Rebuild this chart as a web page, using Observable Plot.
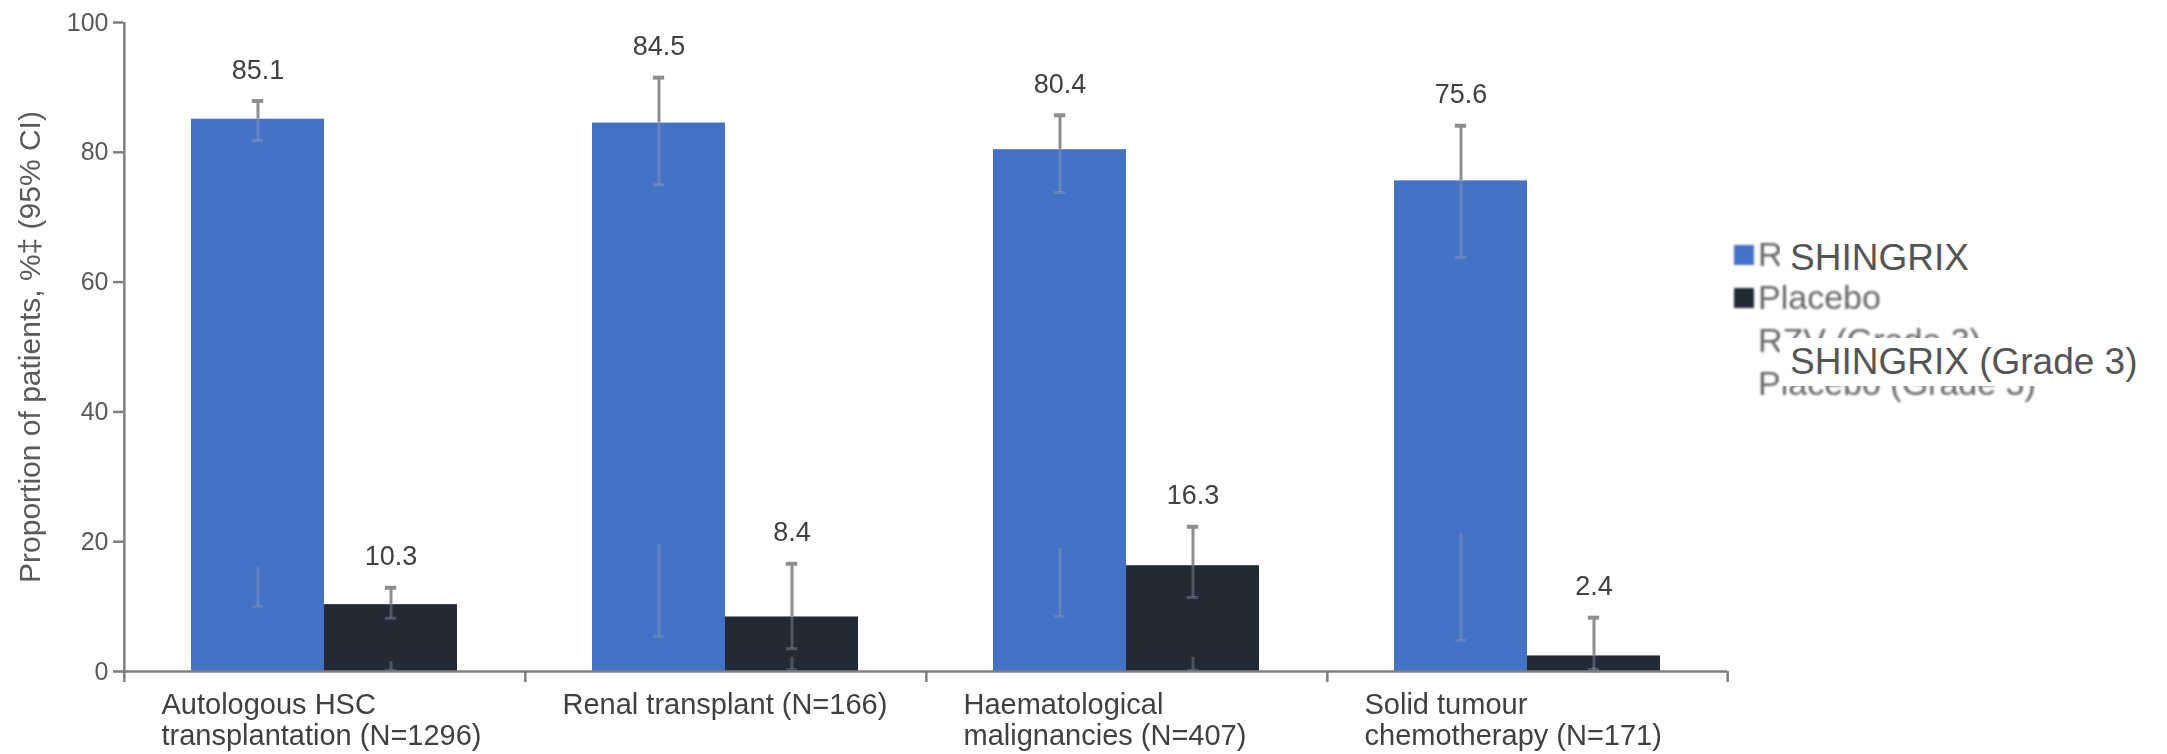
<!DOCTYPE html>
<html>
<head>
<meta charset="utf-8">
<script src="https://cdn.jsdelivr.net/npm/d3@7"></script>
<script src="https://cdn.jsdelivr.net/npm/@observablehq/plot@0.6"></script>
<style>
  html, body { margin: 0; padding: 0; background: #fff; }
  #wrap { position: relative; width: 2167px; height: 754px; font-family: "Liberation Sans", Arial, sans-serif; }
  #chart svg { filter: blur(0.6px); }
  .legend { position: absolute; left: 1734px; top: 233px; color: #666; font-size: 34px; line-height: 43px; filter: blur(0.9px); }
  .legend .row { display: flex; align-items: center; height: 43px; white-space: nowrap; }
  .legend .sw { width: 20px; height: 20px; margin-right: 4px; flex: none; }
  .legend .pad { width: 24px; flex: none; }
  .overlay { position: absolute; background: #fff; color: #555; font-size: 37px; line-height: 48px; padding: 0 6px 0 10px; white-space: nowrap; }
</style>
</head>
<body>
<div id="wrap">
  <div id="chart"></div>
</div>
<script>
// Patient groups shown along the x axis
const categories = ["Autologous HSC", "Renal transplant", "Haematological", "Solid tumour"];
const categoryLabels = [
  "Autologous HSC\ntransplantation (N=1296)",
  "Renal transplant (N=166)",
  "Haematological\nmalignancies (N=407)",
  "Solid tumour\nchemotherapy (N=171)"
];
const series = ["RZV", "Placebo"];

// Proportion of patients, % with 95% CI
const rzvValues = [85.1, 84.5, 80.4, 75.6];
const rzvLower = [81.8, 75.0, 73.8, 63.8];
const rzvUpper = [87.9, 91.5, 85.7, 84.1];
const placeboValues = [10.3, 8.4, 16.3, 2.4];
const placeboLower = [8.2, 3.5, 11.4, 0.3];
const placeboUpper = [12.9, 16.6, 22.3, 8.3];

// Grade 3 confidence intervals (only their whiskers are drawn)
const rzvGrade3Lower = [10.0, 5.4, 8.5, 4.8];
const rzvGrade3Upper = [16.0, 19.5, 19.0, 21.3];
const placeboGrade3Lower = [0.2, 0.3, 0.2, 0.0];
const placeboGrade3Upper = [1.5, 2.2, 2.2, 0.6];

const yTicks = [0, 20, 40, 60, 80, 100];
const yTitle = "Proportion of patients, %\u2021 (95% CI)";
const legendLabels = ["RZV", "Placebo", "RZV (Grade 3)", "Placebo (Grade 3)"];
const overlayLabels = ["SHINGRIX", "SHINGRIX (Grade 3)"];
const seriesColors = ["#4472c4", "#222a36"];

const rows = categories.flatMap((c, i) => [
  {category: c, series: series[0], value: rzvValues[i], lower: rzvLower[i], upper: rzvUpper[i],
   g3Lower: rzvGrade3Lower[i], g3Upper: rzvGrade3Upper[i]},
  {category: c, series: series[1], value: placeboValues[i], lower: placeboLower[i], upper: placeboUpper[i],
   g3Lower: placeboGrade3Lower[i], g3Upper: placeboGrade3Upper[i]}
]);
const labelOf = new Map(categories.map((c, i) => [c, categoryLabels[i]]));

const W = 2167, H = 754;
const mL = 123, mR = 440, mT = 22, mB = 83;
const step = (W - mL - mR) / categories.length / 3; // one bar width
const capInset = (step - 12) / 2;
const axisGrey = "#7f7f7f";
const whisker = "#8e8e8e";

const chart = Plot.plot({
  width: W,
  height: H,
  marginLeft: mL,
  marginRight: mR,
  marginTop: mT,
  marginBottom: mB,
  style: {fontFamily: "'Liberation Sans', Arial, sans-serif", background: "#fff"},
  fx: {domain: categories, padding: 0},
  x: {domain: series, paddingInner: 0, paddingOuter: 0.5, axis: null},
  y: {domain: [0, 100]},
  color: {domain: series, range: seriesColors},
  marks: [
    Plot.barY(rows, {fx: "category", x: "series", y: "value", fill: "series"}),
    // grade 3 whiskers, faint inside the bars
    Plot.ruleX(rows, {fx: "category", x: "series", y1: "g3Lower", y2: "g3Upper", stroke: "#9aa3b5", strokeOpacity: 0.35, strokeWidth: 3}),
    Plot.tickY(rows, {fx: "category", x: "series", y: "g3Lower", stroke: "#9aa3b5", strokeOpacity: 0.3, strokeWidth: 3, insetLeft: capInset, insetRight: capInset}),
    // lower half of the 95% CI whisker sits inside the bar
    Plot.ruleX(rows, {fx: "category", x: "series", y1: "lower", y2: "value", stroke: "#a0a8b8", strokeOpacity: 0.35, strokeWidth: 3}),
    Plot.tickY(rows, {fx: "category", x: "series", y: "lower", stroke: "#a0a8b8", strokeOpacity: 0.35, strokeWidth: 3, insetLeft: capInset, insetRight: capInset}),
    // upper half of the whisker
    Plot.ruleX(rows, {fx: "category", x: "series", y1: "value", y2: "upper", stroke: whisker, strokeWidth: 3}),
    Plot.tickY(rows, {fx: "category", x: "series", y: "upper", stroke: whisker, strokeWidth: 4, insetLeft: capInset, insetRight: capInset}),
    // value labels
    Plot.text(rows, {fx: "category", x: "series", y: "upper", text: d => d.value.toFixed(1), dy: -31, fontSize: 27, fill: "#404040"}),
    // x axis baseline and category separators
    Plot.ruleY([0], {stroke: axisGrey, strokeWidth: 2.5}),
    Plot.ruleX(categories.map(c => ({category: c})), {fx: "category", x: () => series[0], dx: -step, y1: 0, y2: 0, insetBottom: -11, stroke: axisGrey, strokeWidth: 2.5}),
    Plot.ruleX([{category: categories[categories.length - 1]}], {fx: "category", x: () => series[1], dx: step, y1: 0, y2: 0, insetBottom: -11, stroke: axisGrey, strokeWidth: 2.5}),
    // y axis line
    Plot.ruleX([{category: categories[0]}], {fx: "category", x: () => series[0], dx: -step, y1: 100, y2: 0, stroke: axisGrey, strokeWidth: 2.5}),
    Plot.axisY({ticks: yTicks, tickSize: 10, tickPadding: 5, fontSize: 25, label: null, stroke: axisGrey, strokeWidth: 2.5, fill: "#595959"}),
    Plot.text([{category: categories[0], t: yTitle}], {fx: "category", text: "t", frameAnchor: "left", textAnchor: "middle", rotate: -90, dx: -93, fontSize: 30, fill: "#595959"}),
    Plot.axisFx({anchor: "bottom", label: null, tickSize: 0, tickPadding: 20, tickFormat: c => labelOf.get(c),
      textAnchor: "start", dx: -1.5 * step + 38, fontSize: 29, lineHeight: 1.07, fill: "#404040"})
  ]
});
document.getElementById("chart").appendChild(chart);

// Legend on the right, with the renamed series laid over the original entries
const wrap = document.getElementById("wrap");
const legend = document.createElement("div");
legend.className = "legend";
legendLabels.forEach((label, i) => {
  const row = document.createElement("div");
  row.className = "row";
  const sw = document.createElement("span");
  if (i < seriesColors.length) { sw.className = "sw"; sw.style.background = seriesColors[i]; }
  else sw.className = "pad";
  row.appendChild(sw);
  const t = document.createElement("span");
  t.textContent = label;
  row.appendChild(t);
  legend.appendChild(row);
});
wrap.appendChild(legend);

const overlayPlaces = [{left: 1780, top: 234}, {left: 1780, top: 338}];
overlayLabels.forEach((label, i) => {
  const o = document.createElement("div");
  o.className = "overlay";
  o.style.left = overlayPlaces[i].left + "px";
  o.style.top = overlayPlaces[i].top + "px";
  o.textContent = label;
  wrap.appendChild(o);
});
</script>
</body>
</html>
